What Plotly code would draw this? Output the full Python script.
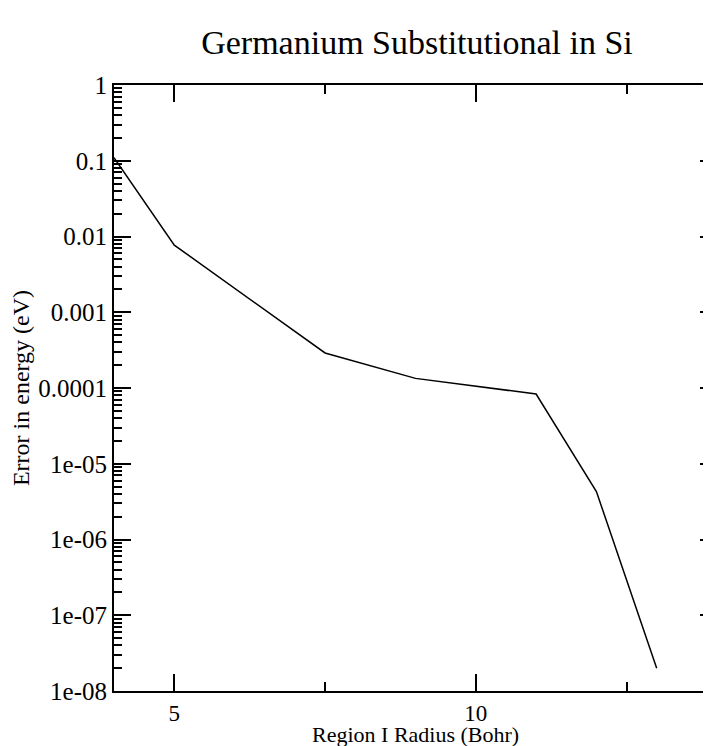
import plotly.graph_objects as go

# Data
radius = [4, 5, 7.5, 9, 11, 12, 13]
error_ev = [0.11, 0.0077, 0.00029, 0.000134, 0.0000833, 0.0000043, 0.00000002]

y_tickvals = [1, 0.1, 0.01, 0.001, 0.0001, 1e-05, 1e-06, 1e-07, 1e-08]
y_ticktext = ["1", "0.1", "0.01", "0.001", "0.0001", "1e-05", "1e-06", "1e-07", "1e-08"]
x_tickvals = [5, 10]
x_ticktext = ["5", "10"]
x_minor = [7.5, 12.5]

y_minor = [k * 10.0 ** d for d in range(-8, 0) for k in range(2, 10)]

FONT = "Liberation Serif"

# The page body has an 8px default margin; the figure is laid out so that the
# plot frame lands where the reference has it (right frame edge just off-screen).
FIG_W, FIG_H = 711, 738

fig = go.Figure()
fig.add_trace(go.Scatter(
    x=radius, y=error_ev, mode="lines",
    line=dict(color="black", width=1.5),
    showlegend=False,
))

fig.update_layout(
    width=FIG_W, height=FIG_H,
    margin=dict(l=106, r=0, t=77, b=55),
    paper_bgcolor="white", plot_bgcolor="white",
    font=dict(family=FONT, color="black", size=24),
    title=dict(text="Germanium Substitutional in Si", font=dict(family=FONT, size=34, color="black"),
               xref="container", x=409 / FIG_W, xanchor="center",
               yref="container", y=1 - 34 / FIG_H, yanchor="middle"),
)

fig.update_xaxes(
    range=[4, 14], showgrid=False, zeroline=False,
    showline=True, linecolor="black", linewidth=2, mirror="allticks",
    ticks="inside", ticklen=17, tickwidth=1.5, tickcolor="black",
    tickvals=x_tickvals, ticktext=x_ticktext,
    tickfont=dict(family=FONT, size=23, color="black"),
    minor=dict(tickvals=x_minor, ticks="inside", ticklen=9, tickwidth=1.5, tickcolor="black"),
)
fig.update_yaxes(
    type="log", range=[-8, 0], showgrid=False, zeroline=False,
    showline=True, linecolor="black", linewidth=2, mirror="allticks",
    ticks="inside", ticklen=17, tickwidth=1.5, tickcolor="black",
    tickvals=y_tickvals, ticktext=y_ticktext,
    tickfont=dict(family=FONT, size=25, color="black"),
    minor=dict(tickvals=y_minor, ticks="inside", ticklen=8, tickwidth=1.5, tickcolor="black"),
    title=dict(text="Error in energy (eV)", font=dict(family=FONT, size=24, color="black"), standoff=10),
)

fig.add_annotation(
    text="Region I Radius (Bohr)", xref="x", x=9, yref="paper", y=-(735 - 691.3) / 606,
    xanchor="center", yanchor="middle", showarrow=False,
    font=dict(family=FONT, size=22, color="black"),
)

fig.write_html("out.html")
